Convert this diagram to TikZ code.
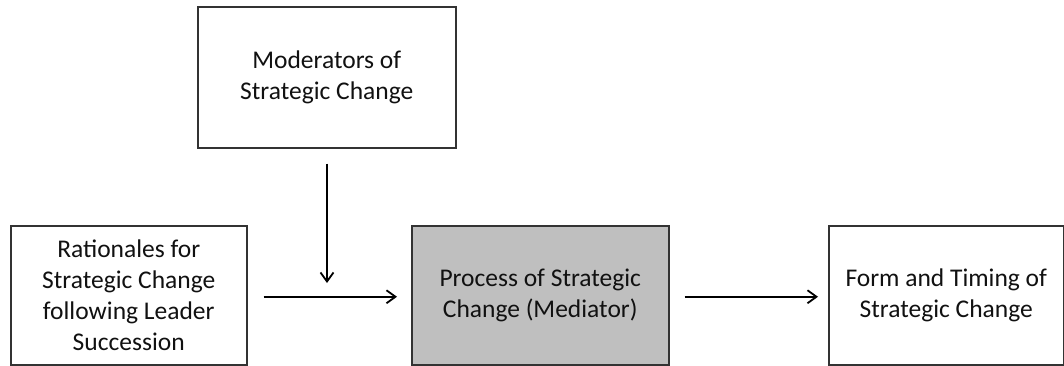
\documentclass[tikz,border=0pt]{standalone}
\usepackage{fontspec}
\setmainfont{Carlito}
\usetikzlibrary{arrows.meta}
\definecolor{boxline}{HTML}{333333}
\definecolor{medfill}{HTML}{BFBFBF}
\definecolor{txt}{HTML}{111111}
\begin{document}
\begin{tikzpicture}[x=1pt,y=-1pt,
  box/.style={draw=boxline, line width=1.5pt, fill=white, align=center,
    inner sep=0pt, text=txt, font=\fontsize{25.5}{31}\selectfont},
  arr/.style={line width=1.8pt,
    -{Straight Barb[length=9pt,width=13pt,line width=1.8pt]}}]
\useasboundingbox (0,0) rectangle (1064,365);

% upper box
\node[box, anchor=north west, minimum width=258pt, minimum height=141pt]
  (mod) at (197,6) {Moderators of\\Strategic Change};

% lower row
\node[box, anchor=north west, minimum width=236pt, minimum height=139pt]
  (rat) at (10,225) {Rationales for\\Strategic Change\\following Leader\\Succession};
\node[box, fill=medfill, anchor=north west, minimum width=257pt, minimum height=139pt]
  (med) at (411,225) {Process of Strategic\\Change (Mediator)};
\node[box, anchor=north west, minimum width=235pt, minimum height=139pt]
  (form) at (828,225) {Form and Timing of\\Strategic Change};

% connectors (canvas shifts: negative yshift points down)
\coordinate (join) at (327,283);
\draw[arr] ([yshift=-15pt]mod.south -| join) -- (join);
\draw[arr] ([xshift=16pt,yshift=-1.5pt]rat.east) -- ([xshift=-14pt,yshift=-1.5pt]med.west);
\draw[arr] ([xshift=15pt,yshift=-1.5pt]med.east) -- ([xshift=-10pt,yshift=-1.5pt]form.west);
\end{tikzpicture}
\end{document}
